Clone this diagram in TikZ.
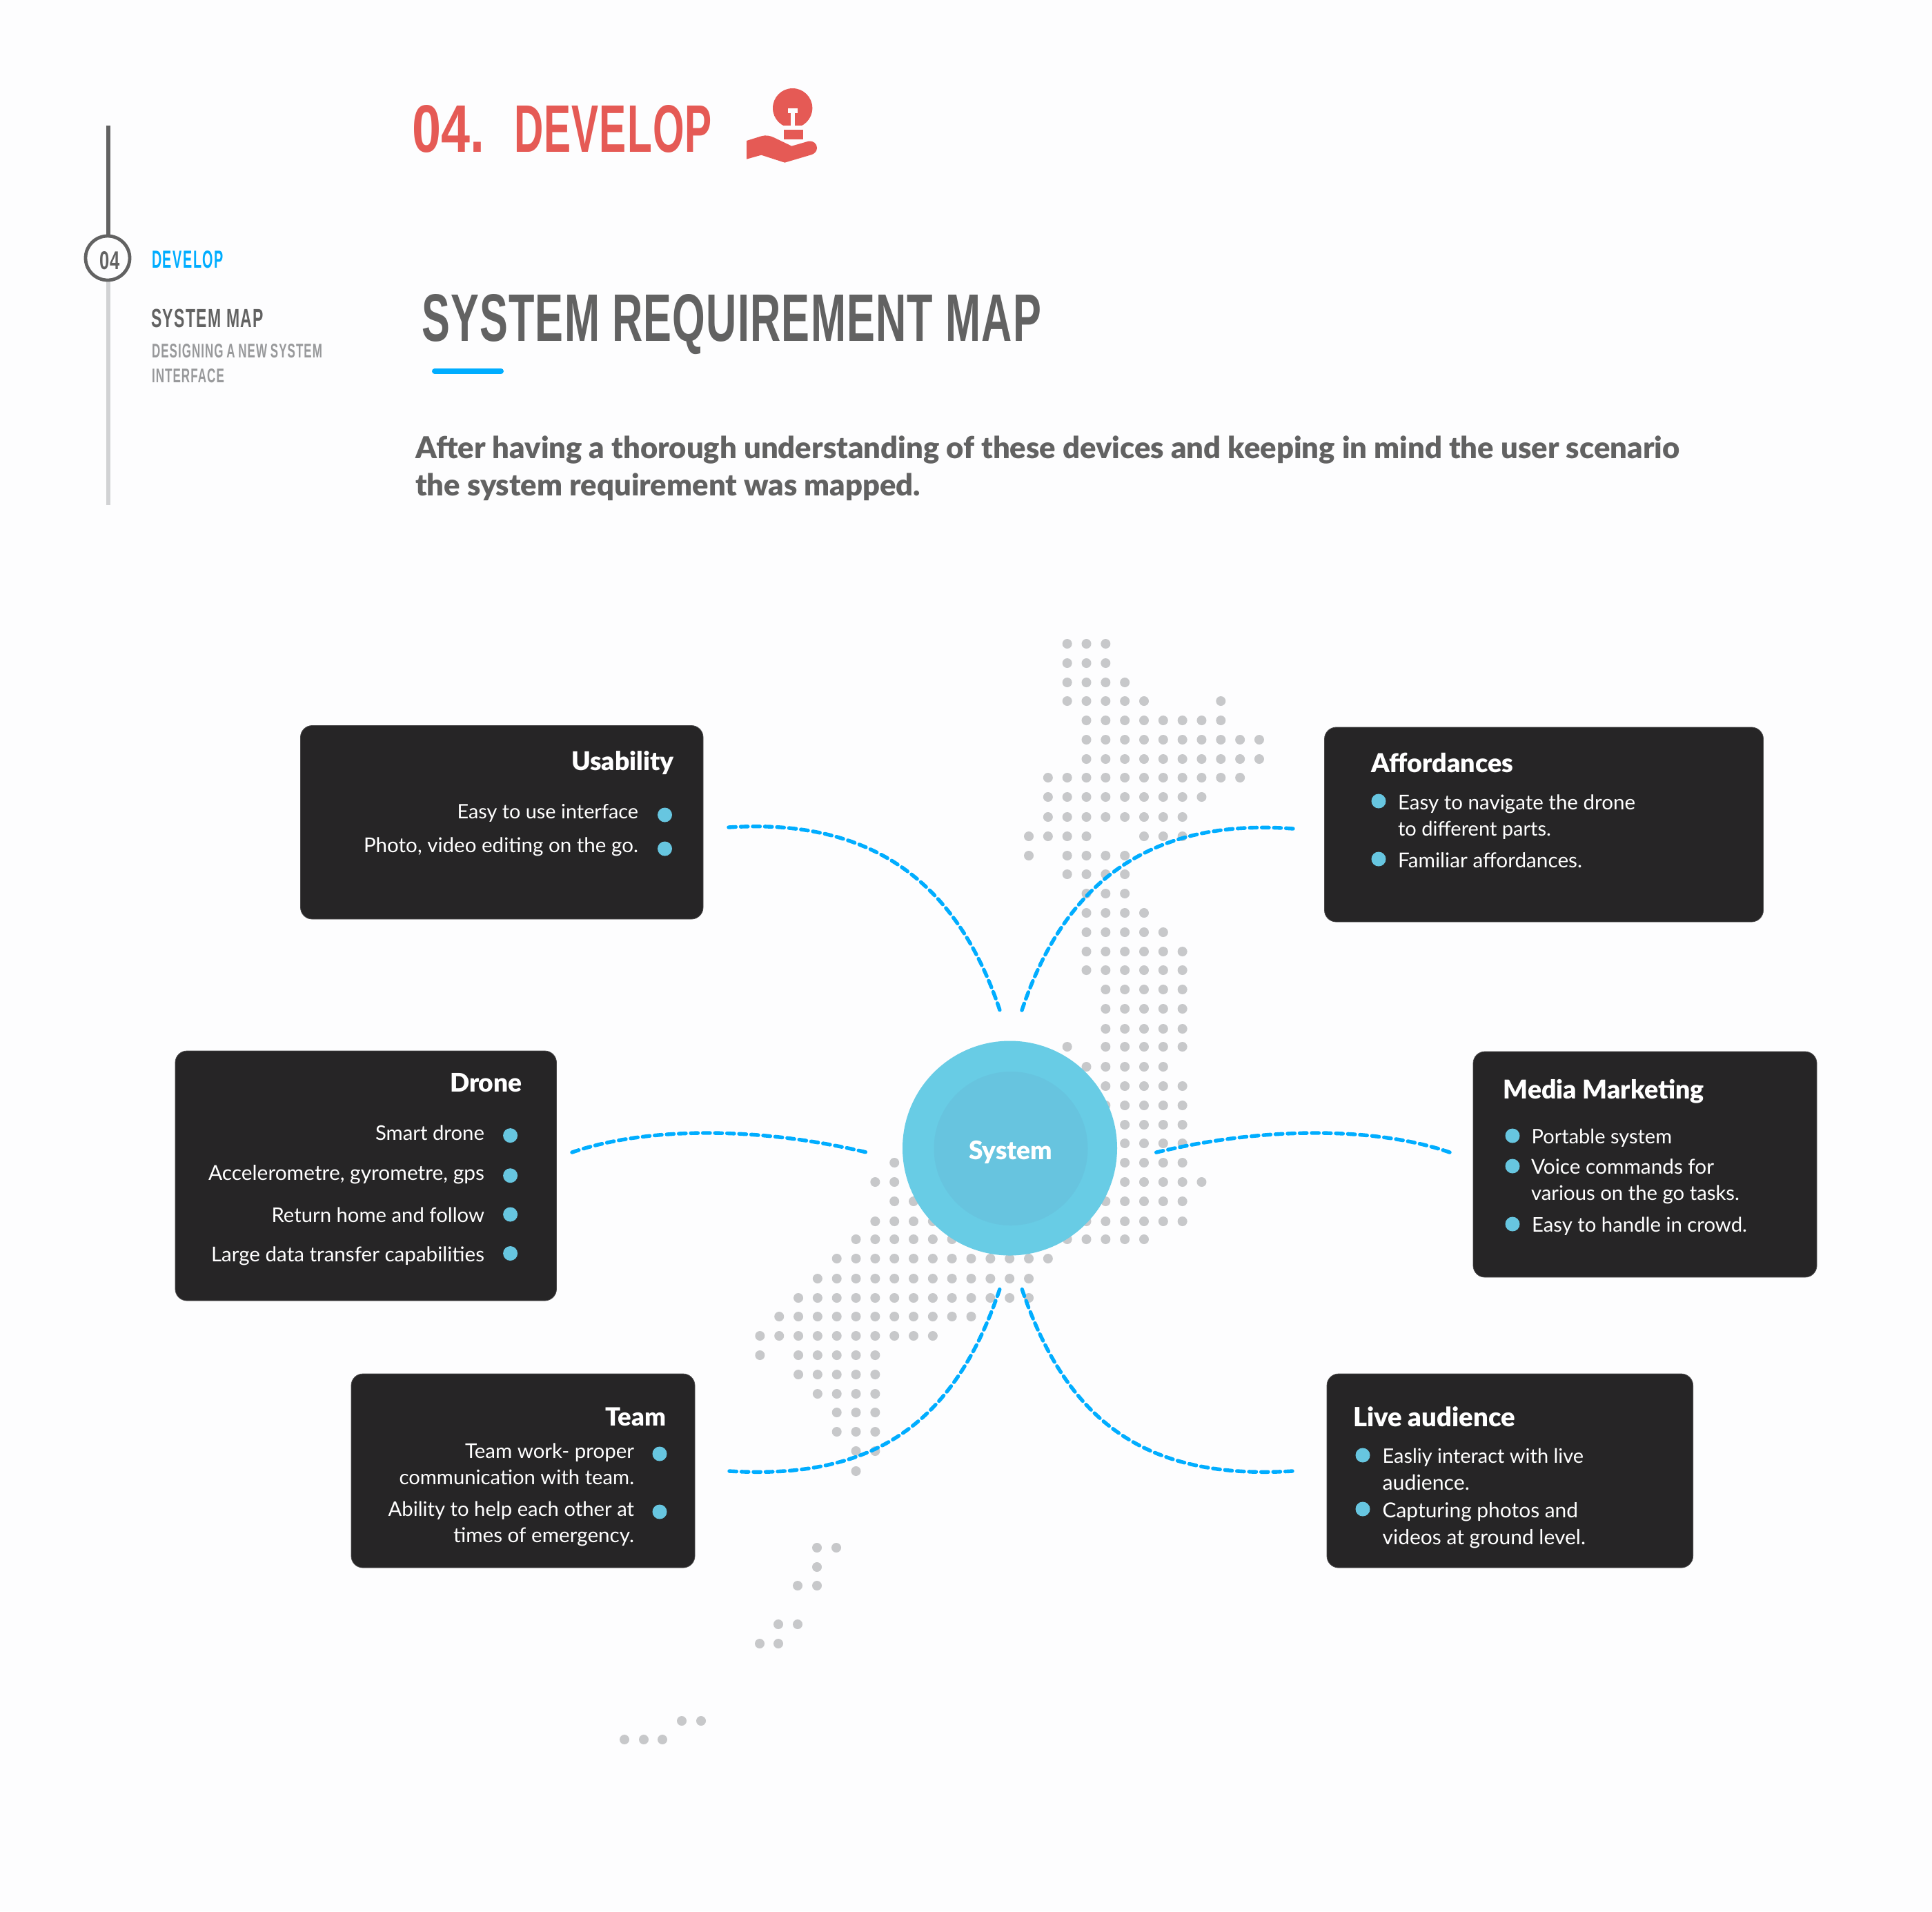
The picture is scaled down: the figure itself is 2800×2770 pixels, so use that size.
\documentclass[tikz,border=0pt]{standalone}
\usepackage{fontspec}
\setmainfont{Lato}
\newfontfamily\heavyf{Lato Black}
\newfontfamily\titlef{Liberation Sans}
\definecolor{bgc}{HTML}{FDFDFE}
\definecolor{dotc}{HTML}{C7C8CA}
\definecolor{flow}{HTML}{00ADFF}
\definecolor{cardc}{HTML}{262526}
\definecolor{cardl}{HTML}{4A494A}
\definecolor{outer}{HTML}{68CCE5}
\definecolor{inner}{HTML}{67C4DF}
\definecolor{bul}{HTML}{67C6E0}
\definecolor{redc}{HTML}{E55A55}
\definecolor{darkg}{HTML}{626262}
\definecolor{midg}{HTML}{98999B}
\definecolor{lightg}{HTML}{D1D2D4}
\tikzset{
  txt/.style={inner sep=0pt,outer sep=0pt,anchor=base west,text=white},
  cardbox/.style={rounded corners=8.5pt,fill=cardc,draw=cardl,line width=.4pt,inner sep=0pt},
  flowline/.style={draw=flow,line width=2.7pt,line cap=round,dash pattern=on 5.2pt off 3.55pt},
  dotmark/.style={fill=dotc},
  bullet/.style={fill=bul},
}
% body line: name left right baseline text, fitted to the measured width
\newcommand\lineN[5]{\node[txt] (#1) at (#2,{#4+2}) {\resizebox{\dimexpr(#3pt-#2pt)/2\relax}{!}{#5}};}
% heading line in the heavy cut
\newcommand\lineT[5]{\node[txt] (#1) at (#2,{#4+3}) {\resizebox{\dimexpr(#3pt-#2pt)/2\relax}{!}{\heavyf #5}};}
% name left right top base colour text: fitted in both directions
\newcommand\titl[7]{\node[txt,text=#6] (#1) at (#2,#5) {\resizebox{\dimexpr(#3pt-#2pt)/2\relax}{\dimexpr(#5pt-#4pt)/2\relax}{\titlef\bfseries #7}};}
\newcommand\cardat[5]{\node[cardbox,minimum width={(#4-#2)/2*1pt},minimum height={(#5-#3)/2*1pt}] (#1) at ({(#2+#4)/2},{(#3+#5)/2}) {};}
\begin{document}
\begin{tikzpicture}[x=.5pt,y=-.5pt]
\useasboundingbox (0,0) rectangle (2800,2770);
\fill[bgc] (0,0) rectangle (2800,2770);

% rail
\draw[darkg,line width=3pt] (157,182) -- (157,345);
\draw[lightg,line width=3pt] (157,400) -- (157,732);
\node[circle,draw=darkg,line width=2.4pt,fill=bgc,minimum size=32pt,inner sep=0pt] (stepc) at (156,374) {};
\titl{stepn}{144}{174}{364}{390}{darkg}{\addfontfeature{LetterSpace=6}04}
\titl{sdev}{220}{324}{363}{388}{flow}{\addfontfeature{LetterSpace=8}DEVELOP}
\titl{smap}{219}{382}{448}{474.5}{darkg}{\addfontfeature{LetterSpace=6}SYSTEM MAP}
\titl{sdes}{220}{467}{498}{518}{midg}{\addfontfeature{LetterSpace=6}\spaceskip=.28em\relax DESIGNING A NEW SYSTEM}
\titl{sint}{220}{325}{534}{554}{midg}{\addfontfeature{LetterSpace=6}INTERFACE}

% header
\titl{hnum}{597}{702}{152}{220}{redc}{04.}
\titl{hdev}{745}{1032}{152}{220}{redc}{\addfontfeature{LetterSpace=2}DEVELOP}
\begin{scope}[shift={(1050,100)},scale=1/3]
  \begin{scope}
    \clip (200,70) rectangle (400,245);
    \fill[redc] (296,170) circle (86);
  \end{scope}
  \fill[bgc] (277,172) rectangle (317,192);
  \fill[bgc] (287,192) rectangle (306,246);
  \fill[redc] (259,265) rectangle (342,305);
  \fill[redc] (96,312) -- (160,292) .. controls (180,286) and (198,290) .. (215,298) -- (292,335) -- (365,314)
     .. controls (385,310) and (402,325) .. (402,342) .. controls (402,356) and (395,366) .. (380,372)
     -- (262,407) -- (160,374) -- (96,392) -- cycle;
\end{scope}

\titl{hsys}{611}{1509}{426}{494}{darkg}{\addfontfeature{LetterSpace=2}SYSTEM REQUIREMENT MAP}
\draw[flow,line width=4pt,line cap=round] (630,538) -- (726,538);

\node[txt,text=darkg] (para1) at (602,664) {\resizebox{\dimexpr(2434pt-602pt)/2\relax}{!}{\heavyf After having a thorough understanding of these devices and keeping in mind the user scenario}};
\node[txt,text=darkg] (para2) at (602,718) {\resizebox{\dimexpr(1334pt-602pt)/2\relax}{!}{\heavyf the system requirement was mapped.}};

% dot map
\foreach \yy/\cols in {
 933/{2,3,4}, 961/{2,3,4}, 989/{2,3,4,5}, 1016/{2,3,4,5,6,10},
 1044/{3,...,10}, 1072/{3,...,12}, 1100/{3,...,12}, 1127/{1,...,11},
 1155/{1,...,9}, 1184/{1,...,8}, 1212/{0,1,2,3,6,7,8}, 1240/{0,2,3,4,5},
 1267/{2,3,4,5}, 1295/{3,4,5}, 1323/{3,4,5,6}, 1351/{3,...,7},
 1379/{3,...,8}, 1406/{3,...,8}, 1434/{4,...,8}, 1462/{4,...,8}, 1491/{4,...,8},
 1517/{2,4,5,6,7,8}, 1546/{3,...,7}, 1574/{4,...,8}, 1602/{4,...,8}, 1630/{4,...,8},
 1657/{4,...,8}, 1685/{-7,4,5,6,7,8}, 1713/{-8,-7,5,6,7,8,9}, 1741/{-7,-6,4,5,6,7,8},
 1770/{-8,-7,-6,-5,3,4,5,6,7,8}, 1796/{-9,-8,-7,-6,-5,-4,2,3,4,5,6},
 1824/{-10,-9,...,1}, 1853/{-11,-10,...,0}, 1881/{-12,-11,...,0},
 1908/{-13,-12,...,-3}, 1936/{-14,-13,...,-5}, 1964/{-14,-12,-11,-10,-9,-8},
 1992/{-12,-11,-10,-9,-8}, 2020/{-11,-10,-9,-8}, 2047/{-10,-9,-8}, 2075/{-10,-9,-8},
 2103/{-9,-8}, 2132/{-9}} {
  \foreach \cc in \cols { \fill[dotmark] ({1491+27.83*\cc},\yy) circle (7); }
}
\foreach \px/\py in {1184/2243,1212/2243,1184/2271,1156/2298,1184/2298,1128/2354,1156/2354,1101/2382,1128/2382,988/2494,1016/2494,905/2521,933/2521,960/2521}
  { \fill[dotmark] (\px,\py) circle (7); }

% connector ends
\coordinate (usS) at (1056,1199); \coordinate (usE) at (1450,1467);
\coordinate (afS) at (1874,1201); \coordinate (afE) at (1480,1467);
\coordinate (drS) at (829,1670);  \coordinate (drE) at (1260,1671);
\coordinate (meS) at (2101,1670); \coordinate (meE) at (1672,1671);
\coordinate (teS) at (1057,2132); \coordinate (teE) at (1450,1865);
\coordinate (liS) at (1873,2132); \coordinate (liE) at (1480,1865);
\draw[flowline] (usS) .. controls (1270,1185) and (1390,1285) .. (usE);
\draw[flowline] (afS) .. controls (1660,1185) and (1540,1285) .. (afE);
\draw[flowline] (drS) .. controls (930,1635) and (1090,1630) .. (drE);
\draw[flowline] (meS) .. controls (2000,1635) and (1840,1630) .. (meE);
\draw[flowline] (teS) .. controls (1270,2145) and (1385,2060) .. (teE);
\draw[flowline] (liS) .. controls (1660,2145) and (1545,2060) .. (liE);

% centre
\node[circle,fill=outer,minimum size=155.5pt,inner sep=0pt] (sysout) at (1463.5,1664) {};
\node[circle,fill=inner,minimum size=111.5pt,inner sep=0pt] (sysin) at (1465,1664.5) {};
\lineT{sysl}{1404}{1525}{1677}{System}

% Usability
\cardat{cardUs}{435.5}{1051.5}{1019}{1332}
\lineT{usT}{828}{976.5}{1113}{Usability}
\lineN{us1}{662.5}{925}{1184}{Easy to use interface}
\lineN{us2}{527}{925}{1233}{Photo, video editing on the go.}
\fill[bullet] (963.5,1181) circle (10.5);
\fill[bullet] (963.5,1230) circle (10.5);

% Affordances
\cardat{cardAf}{1919.5}{1054}{2555.5}{1336}
\lineT{afT}{1987.5}{2193}{1116}{Affordances}
\lineN{af1}{2026}{2370}{1171}{Easy to navigate the drone}
\lineN{af2}{2026}{2248}{1209}{to different parts.}
\lineN{af3}{2026}{2293}{1255}{Familiar affordances.}
\fill[bullet] (1998,1161) circle (10.5);
\fill[bullet] (1998,1245) circle (10.5);

% Drone
\cardat{cardDr}{254}{1523}{806.5}{1885}
\lineT{drT}{652}{756.6}{1579.6}{Drone}
\lineN{dr1}{544}{702}{1650}{Smart drone}
\lineN{dr2}{302}{702}{1708}{Accelerometre, gyrometre, gps}
\lineN{dr3}{393.5}{702}{1769}{Return home and follow}
\lineN{dr4}{306}{702}{1826}{Large data transfer capabilities}
\fill[bullet] (739.6,1645.6) circle (10.5);
\fill[bullet] (739.6,1703.7) circle (10.5);
\fill[bullet] (739.6,1760) circle (10.5);
\fill[bullet] (739.6,1816.5) circle (10.5);

% Media Marketing
\cardat{cardMe}{2135}{1524}{2633}{1851}
\lineT{meT}{2178.6}{2469.6}{1589}{Media Marketing}
\lineN{me1}{2219.7}{2423}{1655}{Portable system}
\lineN{me2}{2219}{2484}{1699}{Voice commands for}
\lineN{me3}{2219}{2521}{1737}{various on the go tasks.}
\lineN{me4}{2220}{2532}{1783}{Easy to handle in crowd.}
\fill[bullet] (2192,1646) circle (10.5);
\fill[bullet] (2192,1690) circle (10.5);
\fill[bullet] (2192,1774) circle (10.5);

% Team
\cardat{cardTe}{509}{1991}{1007}{2272}
\lineT{teT}{877.7}{965}{2063}{Team}
\lineN{te1}{674}{919}{2111}{Team work- proper}
\lineN{te2}{578.6}{919}{2149}{communication with team.}
\lineN{te3}{562.6}{919}{2195}{Ability to help each other at}
\lineN{te4}{657}{919}{2233}{times of emergency.}
\fill[bullet] (956,2107) circle (10.5);
\fill[bullet] (956,2191) circle (10.5);

% Live audience
\cardat{cardLi}{1923}{1991}{2453.6}{2272}
\lineT{liT}{1961}{2196}{2064}{Live audience}
\lineN{li1}{2003.6}{2295}{2118}{Easliy interact with live}
\lineN{li2}{2003.6}{2130}{2157}{audience.}
\lineN{li3}{2003.6}{2287}{2197}{Capturing photos and}
\lineN{li4}{2003.6}{2298}{2236}{videos at ground level.}
\fill[bullet] (1975,2109) circle (10.5);
\fill[bullet] (1975,2187) circle (10.5);
\end{tikzpicture}
\end{document}
